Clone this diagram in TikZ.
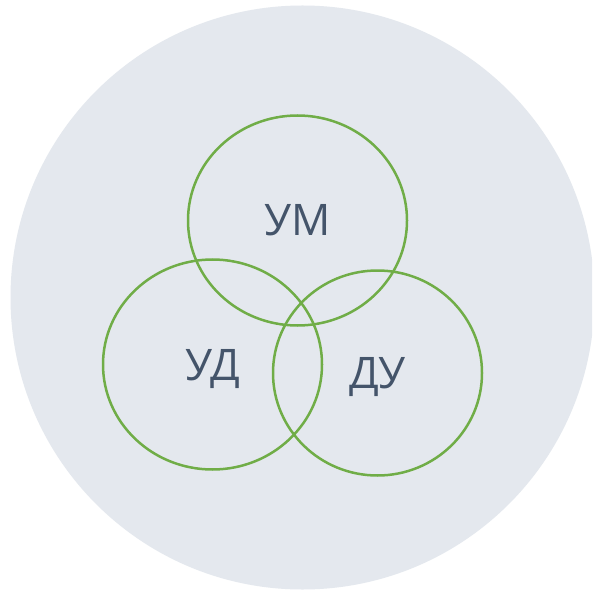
\documentclass[tikz,border=0pt]{standalone}
\usepackage{fontspec}
\setmainfont{Open Sans}
\usepackage{tikz}
\usetikzlibrary{shapes.geometric}
\usepackage{xcolor}
\definecolor{backc}{HTML}{E4E8EE}
\definecolor{ringc}{HTML}{70AD47}
\definecolor{labelc}{HTML}{44546A}
\tikzset{
  ring/.style={ellipse, draw=ringc, line width=2.5pt, inner sep=0pt, outer sep=0pt,
               text=labelc, font=\fontsize{43.5}{43.5}\selectfont,
               text height=31pt, text depth=0pt},
}

\begin{document}
\begin{tikzpicture}[x=1pt, y=-1pt]
\clip (0,0) rectangle (592,593);
\fill[white] (0,0) rectangle (592,593);
\node[circle, fill=backc, minimum size=584pt, inner sep=0pt] (outer) at (302.5,297.5) {};

\node[ring, minimum width=219pt, minimum height=210pt] (um) at (297.5,220.5) {УМ};
\node[ring, minimum width=219pt, minimum height=210pt] (ud) at (212.5,364.5) {УД};
\node[ring, minimum width=209pt, minimum height=205pt] (du) at (377.5,373) {ДУ};
\end{tikzpicture}
\end{document}
